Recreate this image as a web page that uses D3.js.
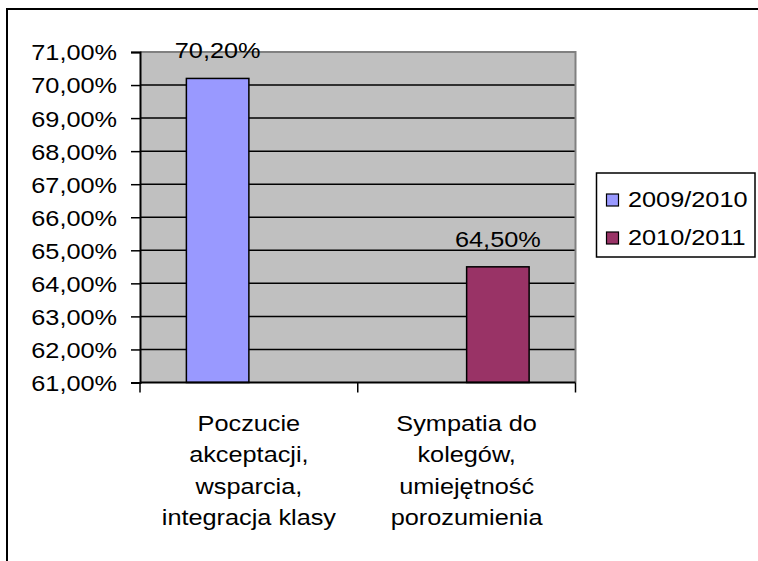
<!DOCTYPE html>
<html>
<head>
<meta charset="utf-8">
<script src="https://cdn.jsdelivr.net/npm/d3@7"></script>
<style>
html,body{margin:0;padding:0;background:#fff;}
svg{display:block;}
text{font-family:Arial,"Liberation Sans",sans-serif;fill:#000;}
</style>
</head>
<body>
<svg id="chart" width="758" height="561"></svg>
<script>
const categories = ["cat1", "cat2"];
const categoryLines = [
  ["Poczucie", "akceptacji,", "wsparcia,", "integracja klasy"],
  ["Sympatia do", "kolegów,", "umiejętność", "porozumienia"]
];
const seriesNames = ["2009/2010", "2010/2011"];
const series2009 = [70.2, null];
const series2010 = [null, 64.5];
const seriesColors = ["#9999FF", "#993366"];
const yTicks = [61, 62, 63, 64, 65, 66, 67, 68, 69, 70, 71];

const SX = 1.15; // horizontal text stretch seen in reference
const FS = 22;

const svg = d3.select("#chart");
const plot = {left: 140, right: 575.5, top: 52, bottom: 382.5};

const locale = d3.formatLocale({decimal: ",", thousands: " ", grouping: [3], currency: ["", " zł"]});
const fmt = v => locale.format(".2f")(v) + "%";

// outer frame
svg.append("rect").attr("x", 7).attr("y", 9).attr("width", 770).attr("height", 570)
  .attr("fill", "#fff").attr("stroke", "#000").attr("stroke-width", 2);

const x0 = d3.scaleBand().domain(categories).range([plot.left, plot.right])
  .paddingInner(0.426).paddingOuter(0.213);
const x1 = d3.scaleBand().domain(seriesNames).range([0, x0.bandwidth()]);
const y = d3.scaleLinear().domain([61, 71]).range([plot.bottom, plot.top]);

// plot background
svg.append("rect").attr("x", plot.left).attr("y", plot.top)
  .attr("width", plot.right - plot.left).attr("height", plot.bottom - plot.top)
  .attr("fill", "#C0C0C0");

// gridlines
svg.append("g").selectAll("line").data(yTicks.filter(t => t > 61 && t < 71)).join("line")
  .attr("x1", plot.left).attr("x2", plot.right)
  .attr("y1", d => y(d)).attr("y2", d => y(d))
  .attr("stroke", "#000").attr("stroke-width", 1.5);

// plot border (top, right) gray
svg.append("path")
  .attr("d", `M${plot.left},${plot.top}H${plot.right}V${plot.bottom}`)
  .attr("fill", "none").attr("stroke", "#808080").attr("stroke-width", 2);

// bars
const seriesData = [series2009, series2010];
seriesData.forEach((vals, si) => {
  const pts = vals.map((v, ci) => ({v, ci})).filter(d => d.v != null);
  svg.append("g").selectAll("rect").data(pts).join("rect")
    .attr("x", d => x0(categories[d.ci]) + x1(seriesNames[si]))
    .attr("y", d => y(d.v))
    .attr("width", x1.bandwidth())
    .attr("height", d => y(61) - y(d.v))
    .attr("fill", seriesColors[si]).attr("stroke", "#000").attr("stroke-width", 1.5);
  svg.append("g").selectAll("text").data(pts).join("text")
    .attr("transform", d => `translate(${x0(categories[d.ci]) + x1(seriesNames[si]) + x1.bandwidth() / 2},${y(d.v) - 20}) scale(${SX},1)`)
    .attr("text-anchor", "middle").attr("font-size", FS)
    .text(d => fmt(d.v));
});

// y axis
const yAxis = svg.append("g").attr("transform", `translate(${plot.left},0)`)
  .call(d3.axisLeft(y).tickValues(yTicks).tickSize(9).tickPadding(14).tickFormat(fmt));
yAxis.select(".domain").attr("stroke", "#000").attr("stroke-width", 2);
yAxis.selectAll(".tick line").attr("stroke", "#000").attr("stroke-width", 1.5);
yAxis.selectAll(".tick text")
  .attr("font-size", FS).attr("font-family", 'Arial,"Liberation Sans",sans-serif')
  .attr("x", -23 / SX).attr("dy", "0.36em")
  .attr("transform", `scale(${SX},1)`);

// x axis
const xAxis = svg.append("g").attr("transform", `translate(0,${plot.bottom})`);
xAxis.append("line").attr("x1", plot.left).attr("x2", plot.right).attr("y1", 0).attr("y2", 0)
  .attr("stroke", "#000").attr("stroke-width", 2);
const xTickPos = [plot.left].concat(categories.map(c => x0(c) + x0.bandwidth() + x0.step() * x0.paddingInner() / 2));
xAxis.selectAll("line.xt").data(xTickPos).join("line").attr("class", "xt")
  .attr("x1", d => d).attr("x2", d => d).attr("y1", 0).attr("y2", 10)
  .attr("stroke", "#000").attr("stroke-width", 1.5);

categories.forEach((c, i) => {
  const cx = x0(c) + x0.bandwidth() / 2;
  const t = svg.append("text").attr("text-anchor", "middle").attr("font-size", FS)
    .attr("transform", `translate(${cx},${431}) scale(${SX},1)`);
  categoryLines[i].forEach((ln, j) => {
    t.append("tspan").attr("x", 0).attr("y", j * 31.4).text(ln);
  });
});

// legend
const lg = svg.append("g");
lg.append("rect").attr("x", 596.5).attr("y", 173).attr("width", 158.5).attr("height", 84)
  .attr("fill", "#fff").attr("stroke", "#000").attr("stroke-width", 1.5);
seriesNames.forEach((s, i) => {
  const yy = 194 + i * 38;
  lg.append("rect").attr("x", 606.5).attr("y", yy).attr("width", 12).attr("height", 12)
    .attr("fill", seriesColors[i]).attr("stroke", "#000").attr("stroke-width", 1.2);
  lg.append("text").attr("font-size", FS)
    .attr("transform", `translate(628,${yy + 13}) scale(${SX},1)`)
    .text(s);
});
</script>
</body>
</html>
